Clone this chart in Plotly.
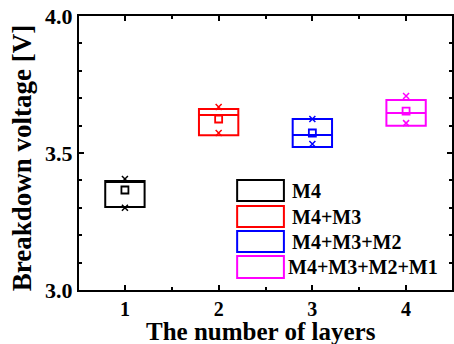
import plotly.graph_objects as go

# ---- data ----
layers = [1, 2, 3, 4]
series = ["M4", "M4+M3", "M4+M3+M2", "M4+M3+M2+M1"]
colors = ["#000000", "#ff0000", "#0000ff", "#ff00ff"]
q1 = [3.303, 3.565, 3.522, 3.599]
median = [3.398, 3.639, 3.566, 3.646]
q3 = [3.398, 3.661, 3.624, 3.693]
mean = [3.365, 3.624, 3.573, 3.653]
vmin = [3.300, 3.573, 3.533, 3.609]
vmax = [3.405, 3.668, 3.624, 3.708]
y_ticks = [3.0, 3.5, 4.0]
y_ticklabels = ["3.0", "3.5", "4.0"]

FONT = "Liberation Serif, Times New Roman, serif"

fig = go.Figure()
for i, name in enumerate(series):
    c = colors[i]
    fig.add_trace(go.Box(
        x=[layers[i]], q1=[q1[i]], median=[median[i]], q3=[q3[i]],
        lowerfence=[q1[i]], upperfence=[q3[i]],
        width=0.42, line=dict(color=c, width=2), fillcolor="rgba(0,0,0,0)",
        name=name, showlegend=False, hoverinfo="skip",
    ))
    fig.add_trace(go.Scatter(
        x=[layers[i]], y=[mean[i]], mode="markers",
        marker=dict(symbol="square-open", size=7, color=c, line=dict(width=1.8, color=c)),
        showlegend=False, hoverinfo="skip",
    ))
    fig.add_trace(go.Scatter(
        x=[layers[i], layers[i]], y=[vmin[i], vmax[i]], mode="markers",
        marker=dict(symbol="x-thin-open", size=6, color=c, line=dict(width=1.5, color=c)),
        showlegend=False, hoverinfo="skip",
    ))

# manual legend (large box symbols as in the reference)
L, T, B, W = 79, 16, 290, 375
def px(x):
    return (x - L) / W
def py(y):
    return (B - y) / (B - T)

rows = [(180, 201), (206, 227), (231, 252), (256, 278)]
text_x = [291, 291, 291, 287]
for i, name in enumerate(series):
    y0, y1 = rows[i]
    fig.add_shape(type="rect", xref="paper", yref="paper",
                  x0=px(238), x1=px(285), y0=py(y1), y1=py(y0),
                  line=dict(color=colors[i], width=2), fillcolor="rgba(0,0,0,0)")
    fig.add_annotation(xref="paper", yref="paper", x=px(text_x[i]), y=py((y0 + y1) / 2),
                       text="<b>" + name + "</b>", showarrow=False,
                       xanchor="left", yanchor="middle",
                       font=dict(family=FONT, size=20, color="black"))

# axis titles
fig.add_annotation(xref="paper", yref="paper", x=px(262), y=py(347),
                   text="<b>The number of layers</b>", showarrow=False,
                   xanchor="center", yanchor="bottom",
                   font=dict(family=FONT, size=25, color="black"))
fig.add_annotation(xref="paper", yref="paper", x=px(22), y=py(158),
                   text="<b>Breakdown voltage [V]</b>", showarrow=False, textangle=-90,
                   xanchor="center", yanchor="middle",
                   font=dict(family=FONT, size=27, color="black"))

fig.update_layout(
    width=454, height=344,
    margin=dict(l=79, r=0, t=16, b=54),
    paper_bgcolor="white", plot_bgcolor="white",
    font=dict(family=FONT, color="black"),
    xaxis=dict(range=[0.51, 4.49], tickvals=layers, ticktext=["<b>%d</b>" % v for v in layers],
               ticks="inside", ticklen=5, tickwidth=2, tickcolor="black",
               minor=dict(dtick=0.5, tick0=0.5, ticks="inside", ticklen=3, tickwidth=2, tickcolor="black"),
               showline=True, linewidth=2, linecolor="black", mirror="allticks",
               showgrid=False, zeroline=False, ticklabelstandoff=0,
               tickfont=dict(family=FONT, size=20, color="black")),
    yaxis=dict(range=[3.0, 4.0], tickvals=y_ticks, ticktext=["<b>%s</b>" % t for t in y_ticklabels],
               ticks="inside", ticklen=5, tickwidth=2, tickcolor="black",
               minor=dict(dtick=0.1, tick0=3.0, ticks="inside", ticklen=3, tickwidth=2, tickcolor="black"),
               showline=True, linewidth=2, linecolor="black", mirror="allticks",
               showgrid=False, zeroline=False,
               tickfont=dict(family=FONT, size=22, color="black")),
)

fig.write_html("out.html")
